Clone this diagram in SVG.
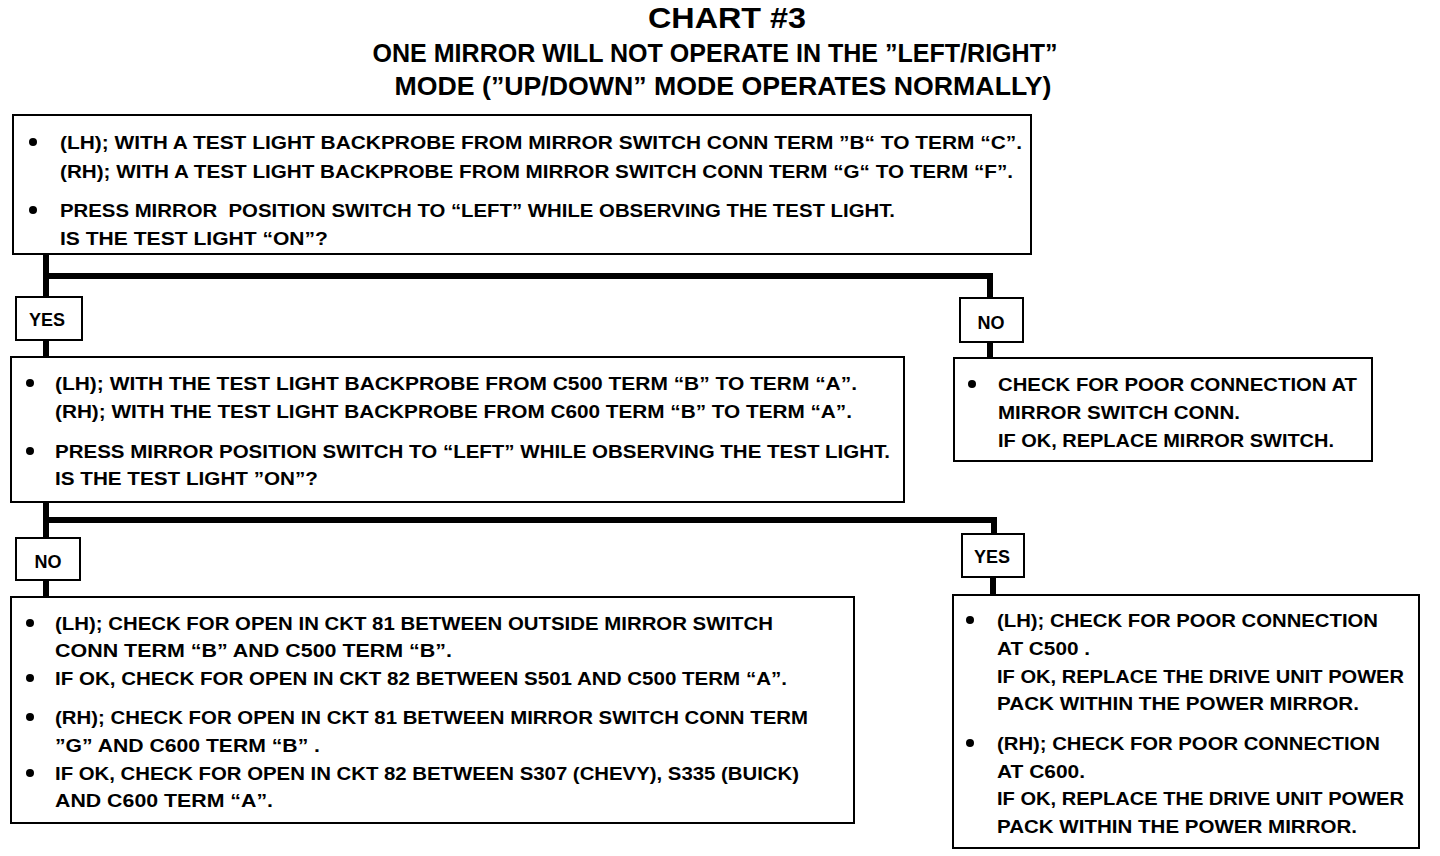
<svg xmlns="http://www.w3.org/2000/svg" width="1440" height="856" viewBox="0 0 1440 856">
<style>
.bg{fill:#fff}
.box{fill:#fff;stroke:#000;stroke-width:2}
.t{font-family:"Liberation Sans",Arial,sans-serif;font-weight:bold;font-size:19px;fill:#000}
.h{font-family:"Liberation Sans",Arial,sans-serif;font-weight:bold;fill:#000;text-anchor:middle}
.lbl{font-family:"Liberation Sans",Arial,sans-serif;font-weight:bold;font-size:18px;fill:#000;text-anchor:middle}
.c{stroke:#000;stroke-width:6;fill:none;stroke-linejoin:miter;stroke-linecap:butt}
</style>
<rect class="bg" x="0" y="0" width="1440" height="856"/>
<g id="title">
<text class="h" x="727" y="28" font-size="30" textLength="158" lengthAdjust="spacingAndGlyphs">CHART #3</text>
<text class="h" x="715" y="62" font-size="25" textLength="685" lengthAdjust="spacingAndGlyphs">ONE MIRROR WILL NOT OPERATE IN THE ”LEFT/RIGHT”</text>
<text class="h" x="723" y="95" font-size="25" textLength="657" lengthAdjust="spacingAndGlyphs">MODE (”UP/DOWN” MODE OPERATES NORMALLY)</text>
</g>
<g id="connectors">
<polyline class="c" points="46,254 46,297"/>
<polyline class="c" points="46,276 990,276 990,298"/>
<polyline class="c" points="46,340 46,357"/>
<polyline class="c" points="990,342 990,358"/>
<polyline class="c" points="46,502 46,538"/>
<polyline class="c" points="46,520 994,520 994,534"/>
<polyline class="c" points="46,580 46,597"/>
<polyline class="c" points="993,577 993,595"/>
</g>
<g id="node1">
<rect class="box" x="13" y="115" width="1018" height="139"/>
<circle cx="33" cy="142" r="4"/>
<text class="t" x="60" y="149" textLength="962" lengthAdjust="spacingAndGlyphs">(LH); WITH A TEST LIGHT BACKPROBE FROM MIRROR SWITCH CONN TERM ”B“ TO TERM “C”.</text>
<text class="t" x="60" y="178" textLength="953" lengthAdjust="spacingAndGlyphs">(RH); WITH A TEST LIGHT BACKPROBE FROM MIRROR SWITCH CONN TERM “G“ TO TERM “F”.</text>
<circle cx="33" cy="210" r="4"/>
<text class="t" x="60" y="217" textLength="835" lengthAdjust="spacingAndGlyphs" xml:space="preserve">PRESS MIRROR  POSITION SWITCH TO “LEFT” WHILE OBSERVING THE TEST LIGHT.</text>
<text class="t" x="60" y="245" textLength="268" lengthAdjust="spacingAndGlyphs">IS THE TEST LIGHT “ON”?</text>
</g>
<g id="label-yes1">
<rect class="box" x="16" y="297" width="66" height="43"/>
<text class="lbl" x="47" y="326">YES</text>
</g>
<g id="label-no1">
<rect class="box" x="960" y="298" width="63" height="44"/>
<text class="lbl" x="991" y="329">NO</text>
</g>
<g id="node2">
<rect class="box" x="11" y="357" width="893" height="145"/>
<circle cx="30" cy="383" r="4"/>
<text class="t" x="55" y="390" textLength="802" lengthAdjust="spacingAndGlyphs">(LH); WITH THE TEST LIGHT BACKPROBE FROM C500 TERM “B” TO TERM “A”.</text>
<text class="t" x="55" y="418" textLength="797" lengthAdjust="spacingAndGlyphs">(RH); WITH THE TEST LIGHT BACKPROBE FROM C600 TERM “B” TO TERM “A”.</text>
<circle cx="30" cy="451" r="4"/>
<text class="t" x="55" y="458" textLength="835" lengthAdjust="spacingAndGlyphs">PRESS MIRROR POSITION SWITCH TO “LEFT” WHILE OBSERVING THE TEST LIGHT.</text>
<text class="t" x="55" y="485" textLength="263" lengthAdjust="spacingAndGlyphs">IS THE TEST LIGHT ”ON”?</text>
</g>
<g id="node3">
<rect class="box" x="954" y="358" width="418" height="103"/>
<circle cx="972" cy="384" r="4"/>
<text class="t" x="998" y="391" textLength="359" lengthAdjust="spacingAndGlyphs">CHECK FOR POOR CONNECTION AT</text>
<text class="t" x="998" y="419" textLength="242" lengthAdjust="spacingAndGlyphs">MIRROR SWITCH CONN.</text>
<text class="t" x="998" y="447" textLength="336" lengthAdjust="spacingAndGlyphs">IF OK, REPLACE MIRROR SWITCH.</text>
</g>
<g id="label-no2">
<rect class="box" x="16" y="538" width="64" height="42"/>
<text class="lbl" x="48" y="568">NO</text>
</g>
<g id="label-yes2">
<rect class="box" x="962" y="534" width="62" height="43"/>
<text class="lbl" x="992" y="563">YES</text>
</g>
<g id="node4">
<rect class="box" x="11" y="597" width="843" height="226"/>
<circle cx="30" cy="623" r="4"/>
<text class="t" x="55" y="630" textLength="718" lengthAdjust="spacingAndGlyphs">(LH); CHECK FOR OPEN IN CKT 81 BETWEEN OUTSIDE MIRROR SWITCH</text>
<text class="t" x="55" y="657" textLength="397" lengthAdjust="spacingAndGlyphs">CONN TERM “B” AND C500 TERM “B”.</text>
<circle cx="30" cy="678" r="4"/>
<text class="t" x="55" y="685" textLength="732" lengthAdjust="spacingAndGlyphs">IF OK, CHECK FOR OPEN IN CKT 82 BETWEEN S501 AND C500 TERM “A”.</text>
<circle cx="30" cy="717" r="4"/>
<text class="t" x="55" y="724" textLength="753" lengthAdjust="spacingAndGlyphs">(RH); CHECK FOR OPEN IN CKT 81 BETWEEN MIRROR SWITCH CONN TERM</text>
<text class="t" x="55" y="752" textLength="265" lengthAdjust="spacingAndGlyphs">”G” AND C600 TERM “B” .</text>
<circle cx="30" cy="773" r="4"/>
<text class="t" x="55" y="780" textLength="744" lengthAdjust="spacingAndGlyphs">IF OK, CHECK FOR OPEN IN CKT 82 BETWEEN S307 (CHEVY), S335 (BUICK)</text>
<text class="t" x="55" y="807" textLength="218" lengthAdjust="spacingAndGlyphs">AND C600 TERM “A”.</text>
</g>
<g id="node5">
<rect class="box" x="953" y="595" width="466" height="253"/>
<circle cx="970" cy="620" r="4"/>
<text class="t" x="997" y="627" textLength="381" lengthAdjust="spacingAndGlyphs">(LH); CHECK FOR POOR CONNECTION</text>
<text class="t" x="997" y="655" textLength="93" lengthAdjust="spacingAndGlyphs" xml:space="preserve">AT C500 .</text>
<text class="t" x="997" y="683" textLength="407" lengthAdjust="spacingAndGlyphs">IF OK, REPLACE THE DRIVE UNIT POWER</text>
<text class="t" x="997" y="710" textLength="362" lengthAdjust="spacingAndGlyphs">PACK WITHIN THE POWER MIRROR.</text>
<circle cx="970" cy="743" r="4"/>
<text class="t" x="997" y="750" textLength="383" lengthAdjust="spacingAndGlyphs">(RH); CHECK FOR POOR CONNECTION</text>
<text class="t" x="997" y="778" textLength="88" lengthAdjust="spacingAndGlyphs">AT C600.</text>
<text class="t" x="997" y="805" textLength="407" lengthAdjust="spacingAndGlyphs">IF OK, REPLACE THE DRIVE UNIT POWER</text>
<text class="t" x="997" y="833" textLength="360" lengthAdjust="spacingAndGlyphs">PACK WITHIN THE POWER MIRROR.</text>
</g>
</svg>
